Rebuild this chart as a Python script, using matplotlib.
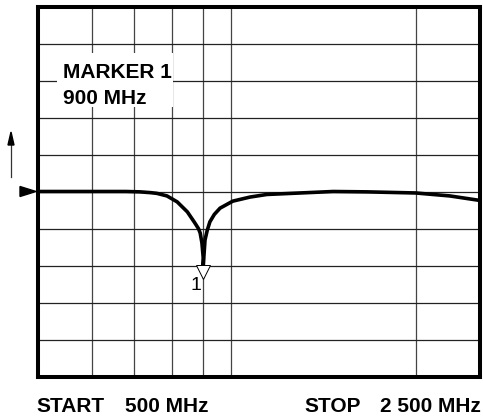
import matplotlib
matplotlib.use('Agg')
import matplotlib.pyplot as plt
from matplotlib.patches import Polygon, Rectangle
import numpy as np

W, H = 483, 417

# trace, in screen divisions (10 x 10)
trace_x = [0.0, 1.0, 2.0, 2.32, 2.55, 2.70, 2.93, 3.16, 3.39, 3.56, 3.64, 3.68, 3.72, 3.75,
           3.75, 3.79, 3.84, 3.90, 4.00, 4.13, 4.42, 4.81, 5.19, 5.94, 6.69, 7.46, 8.56, 9.33, 10.0]
trace_y = [5.0, 5.0, 5.0, 4.99, 4.97, 4.95, 4.88, 4.72, 4.45, 4.15, 4.0, 3.88, 3.61, 3.2,
           3.0, 3.69, 3.95, 4.18, 4.38, 4.55, 4.74, 4.85, 4.92, 4.96, 5.0, 4.99, 4.96, 4.88, 4.76]
vgrid = [1.233, 2.183, 3.05, 3.75, 4.37, 8.56]
hgrid = [1, 2, 3, 4, 5, 6, 7, 8, 9]
marker_x, marker_y = 3.75, 3.0
ref_level = 5.0

marker_lines = ['MARKER 1', '900 MHz']
start_label, start_val = 'START', '500 MHz'
stop_label, stop_val = 'STOP', '2 500 MHz'

plt.rcParams['font.family'] = ['Liberation Sans', 'DejaVu Sans']

fig = plt.figure(figsize=(W/100, H/100), dpi=100)
# axes box from frame line centres (px)
l, r, t, b = 37.5, 479.5, 6.5, 376.5
ax = fig.add_axes([l/W, 1-b/H, (r-l)/W, (b-t)/H])
ax.set_xlim(0, 10)
ax.set_ylim(0, 10)
ax.set_xticks([])
ax.set_yticks([])
for s in ax.spines.values():
    s.set_linewidth(2.9)
    s.set_color('black')
    s.set_zorder(10)

for gx in vgrid:
    ax.axvline(gx, color='#444444', lw=0.9, zorder=1)
for gy in hgrid:
    ax.axhline(gy, color='#222222', lw=0.9, zorder=1)

def fx(px):
    return px / W

def fy(py):
    return 1 - py / H

# white box behind marker readout
fig.patches.append(Rectangle((fx(57), fy(107)), (173-57)/W, (107-53)/H,
                             transform=fig.transFigure, facecolor='white',
                             edgecolor='none', zorder=2))
ax.set_zorder(1)

ax.plot(trace_x, trace_y, color='black', lw=2.6, zorder=5, solid_joinstyle='round')

# marker triangle below dip
ax.plot([marker_x], [marker_y], marker='v', markersize=10, markerfacecolor='white',
        markeredgecolor='black', markeredgewidth=0.7, zorder=6,
        transform=ax.transData + matplotlib.transforms.ScaledTranslation(0, -6/100, fig.dpi_scale_trans))
fig.text(fx(191), fy(290), '1', fontsize=14, color='black', va='baseline', ha='left')

# reference level triangle
yref = fy(191.5)
fig.patches.append(Polygon([[fx(20), yref + 5/H], [fx(20), yref - 5/H], [fx(36), yref]],
                           closed=True, transform=fig.transFigure, facecolor='black',
                           edgecolor='black', zorder=3))

# up arrow
fig.patches.append(Polygon([[fx(11), fy(132)], [fx(8), fy(145)], [fx(14), fy(145)]],
                           closed=True, transform=fig.transFigure, facecolor='black',
                           edgecolor='black', zorder=3))
fig.lines.append(plt.Line2D([fx(11), fx(11)], [fy(143), fy(177)], transform=fig.transFigure,
                            color='#333333', lw=0.9))

fs = 15
fig.text(fx(63), fy(78), marker_lines[0], fontsize=fs, fontweight='bold', va='baseline', zorder=4)
fig.text(fx(63), fy(103.5), marker_lines[1], fontsize=fs, fontweight='bold', va='baseline', zorder=4)

fig.text(fx(36), fy(412), start_label, fontsize=fs, fontweight='bold', va='baseline')
fig.text(fx(125), fy(412), start_val, fontsize=fs, fontweight='bold', va='baseline')
fig.text(fx(304), fy(412), stop_label, fontsize=fs, fontweight='bold', va='baseline')
fig.text(fx(481), fy(412), stop_val, fontsize=fs, fontweight='bold', va='baseline', ha='right')

fig.savefig('out.png', dpi=100)
